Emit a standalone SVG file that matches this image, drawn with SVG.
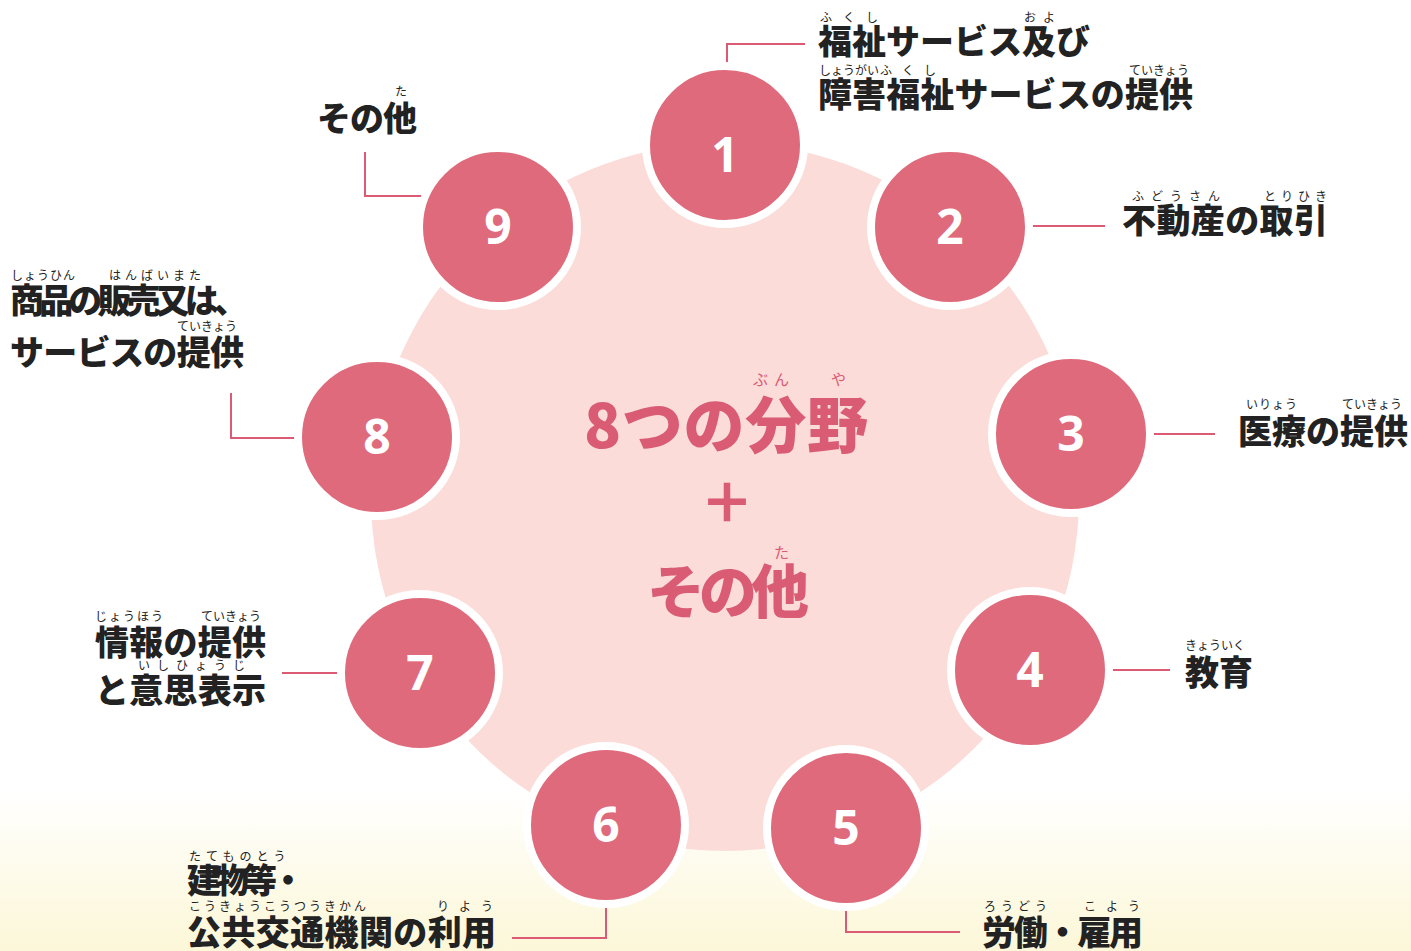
<svg xmlns="http://www.w3.org/2000/svg" width="1411" height="951" viewBox="0 0 1411 951">
<defs>
<linearGradient id="bg" x1="0" y1="0" x2="0" y2="1">
<stop offset="0" stop-color="#ffffff"/>
<stop offset="0.83" stop-color="#ffffff"/>
<stop offset="1" stop-color="#fcf7d8"/>
</linearGradient>
<style>
.lbl{font-family:"Noto Sans CJK JP","Noto Sans",sans-serif;font-weight:900;font-size:34px;fill:#222222}
.rb{font-family:"Noto Sans CJK JP","Noto Sans",sans-serif;font-weight:400;font-size:12px;fill:#222222}
.ctr{font-family:"Noto Sans CJK JP","Noto Sans",sans-serif;font-weight:900;fill:#d95b74}
.crb{font-family:"Noto Sans CJK JP","Noto Sans",sans-serif;font-weight:400;font-size:15px;fill:#d95b74}
.dot{fill:#df6a7c;stroke:#ffffff;stroke-width:8}
.num{font-family:"Open Sans","Noto Sans",sans-serif;font-weight:700;font-size:48px;fill:#ffffff;text-anchor:middle}
.con{fill:none;stroke:#dd5a74;stroke-width:2}
</style>
</defs>
<rect x="0" y="0" width="1411" height="951" fill="url(#bg)"/>
<circle cx="725" cy="497" r="354" fill="#fbdcd8"/>

<g id="connectors">
<path class="con" d="M727,72 V44 H805"/>
<path class="con" d="M1024,226 H1105"/>
<path class="con" d="M1145,434 H1215"/>
<path class="con" d="M1103,670 H1170"/>
<path class="con" d="M846,900 V932 H960"/>
<path class="con" d="M606,898 V938 H512"/>
<path class="con" d="M347,673 H282"/>
<path class="con" d="M305,438 H231 V393"/>
<path class="con" d="M365,152 V196 H432"/>
</g>

<g id="center">
<text class="crb" x="753" y="385" letter-spacing="6">ぶん</text>
<text class="crb" x="831" y="385">や</text>
<text class="ctr" x="584" y="448" font-size="61" textLength="284">8つの分野</text>
<text class="ctr" x="727" y="523" font-size="54" text-anchor="middle">＋</text>
<text class="crb" x="774" y="558">た</text>
<text class="ctr" x="647" y="613" font-size="58" textLength="162">その他</text>
</g>

<g id="node1">
<circle class="dot" cx="725" cy="145" r="79"/>
<text class="num" x="725" y="172">1</text>
<text class="rb" x="820" y="22" letter-spacing="11">ふくし</text>
<text class="rb" x="1024" y="22" letter-spacing="7">およ</text>
<text class="lbl" x="818" y="54" textLength="272">福祉サービス及び</text>
<text class="rb" x="819" y="75" font-size="11">しょうがい</text>
<text class="rb" x="880" y="75" letter-spacing="10">ふくし</text>
<text class="rb" x="1129" y="75" font-size="11.5">ていきょう</text>
<text class="lbl" x="818" y="107" textLength="375">障害福祉サービスの提供</text>
</g>

<g id="node2">
<circle class="dot" cx="950" cy="227" r="79"/>
<text class="num" x="950" y="244">2</text>
<text class="rb" x="1132" y="201" letter-spacing="7">ふどうさん</text>
<text class="rb" x="1264" y="201" letter-spacing="5">とりひき</text>
<text class="lbl" x="1122" y="233" textLength="206">不動産の取引</text>
</g>

<g id="node3">
<circle class="dot" cx="1071" cy="434" r="79"/>
<text class="num" x="1071" y="451">3</text>
<text class="rb" x="1246" y="409" font-size="11" letter-spacing="1">いりょう</text>
<text class="rb" x="1342" y="409" font-size="11.5">ていきょう</text>
<text class="lbl" x="1238" y="444" textLength="170">医療の提供</text>
</g>

<g id="node4">
<circle class="dot" cx="1030" cy="670" r="79"/>
<text class="num" x="1030" y="687">4</text>
<text class="rb" x="1185" y="650" font-size="11.5">きょういく</text>
<text class="lbl" x="1185" y="685" textLength="68">教育</text>
</g>

<g id="node5">
<circle class="dot" cx="846" cy="828" r="79"/>
<text class="num" x="846" y="845">5</text>
<text class="rb" x="984" y="911" letter-spacing="5">ろうどう</text>
<text class="rb" x="1084" y="911" letter-spacing="10">こよう</text>
<text class="lbl" x="982" y="945" textLength="161">労働・雇用</text>
</g>

<g id="node6">
<circle class="dot" cx="606" cy="825" r="79"/>
<text class="num" x="606" y="842">6</text>
<text class="rb" x="189" y="861" letter-spacing="5">たてものとう</text>
<text class="lbl" x="187" y="893" textLength="118">建物等・</text>
<text class="rb" x="189" y="911" letter-spacing="3">こうきょうこうつうきかん</text>
<text class="rb" x="437" y="911" letter-spacing="10">りよう</text>
<text class="lbl" x="187" y="945" textLength="309">公共交通機関の利用</text>
</g>

<g id="node7">
<circle class="dot" cx="420" cy="673" r="79"/>
<text class="num" x="420" y="690">7</text>
<text class="rb" x="95" y="621" letter-spacing="2">じょうほう</text>
<text class="rb" x="201" y="621" font-size="11.5">ていきょう</text>
<text class="lbl" x="95" y="655" textLength="171">情報の提供</text>
<text class="rb" x="138" y="670" letter-spacing="7">いしひょうじ</text>
<text class="lbl" x="95" y="703" textLength="171">と意思表示</text>
</g>

<g id="node8">
<circle class="dot" cx="377" cy="437" r="79"/>
<text class="num" x="377" y="454">8</text>
<text class="rb" x="11" y="280" letter-spacing="1">しょうひん</text>
<text class="rb" x="109" y="280" letter-spacing="4">はんばいまた</text>
<text class="lbl" x="10" y="313" textLength="238">商品の販売又は、</text>
<text class="rb" x="177" y="331" font-size="11.5">ていきょう</text>
<text class="lbl" x="10" y="365" textLength="234">サービスの提供</text>
</g>

<g id="node9">
<circle class="dot" cx="498" cy="227" r="79"/>
<text class="num" x="498" y="244">9</text>
<text class="rb" x="395" y="96">た</text>
<text class="lbl" x="317" y="131" textLength="100">その他</text>
</g>
</svg>
